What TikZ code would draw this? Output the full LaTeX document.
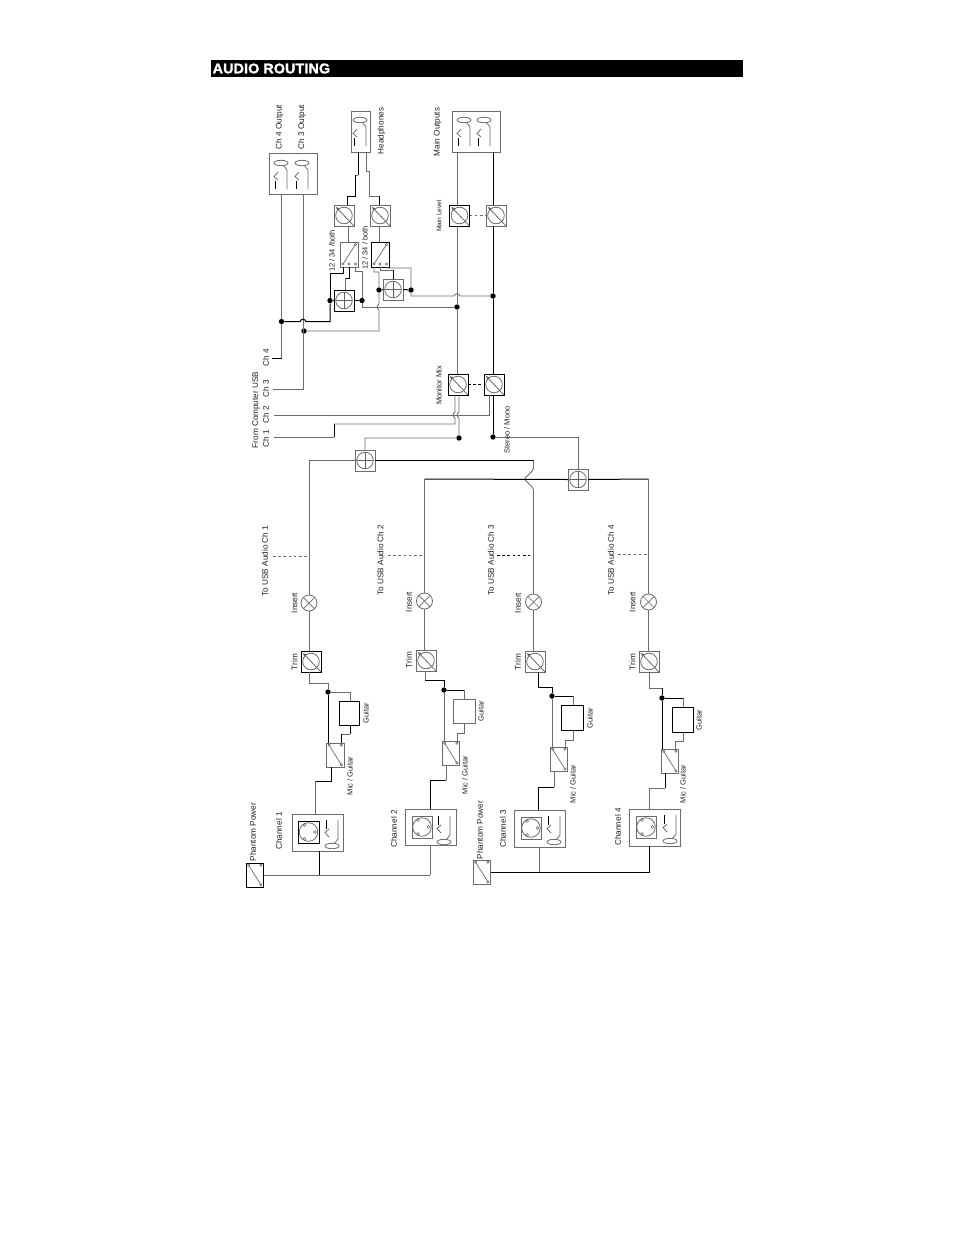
\documentclass[tikz,border=0pt]{standalone}
\usepackage{fontspec}
\setmainfont{Liberation Sans}
\usetikzlibrary{arrows.meta}
\definecolor{gr}{gray}{0.42}
\tikzset{
 gry/.style={draw=gr,line width=0.9pt},
 blk/.style={draw=black,line width=1pt},
 inner/.style={draw=black!62,line width=.75pt},
 unitbox/.style={inner sep=0pt,outer sep=0pt,fill=white},
 dotn/.style={circle,fill=black,draw=none,inner sep=0pt,minimum size=5.4pt},
 lab/.style={rotate=90,inner sep=0pt,text=black!88,font=\fontsize{8.2}{10}\selectfont},
 labs/.style={lab,font=\fontsize{6.6}{8}\selectfont},
 labm/.style={lab,font=\fontsize{7.5}{9}\selectfont},
 dsh/.style={dash pattern=on 2.6pt off 2.6pt},
}
\newcommand\BX[6][gry]{%
 \pgfmathsetmacro\cx{(#3+#5)/2}\pgfmathsetmacro\cy{(#4+#6)/2}%
 \pgfmathsetmacro\ww{#5-#3}\pgfmathsetmacro\hh{#6-#4}%
 \node[unitbox,#1,minimum width=\ww pt,minimum height=\hh pt] (#2) at (\cx,\cy) {};}
% pot: style, name, x1, y1
\newcommand\POT[4][gry]{%
 \pgfmathsetmacro\xb{#3+20}\pgfmathsetmacro\yb{#4+21}%
 \BX[#1]{#2}{#3}{#4}{\xb}{\yb}%
 \draw[inner] (#2.center) circle[radius=8.3];
 \draw[inner,-{Stealth[length=4pt,width=3.6pt]}] (#2.south east) -- ([shift={(2pt,-2pt)}]#2.north west);}
\newcommand\SUM[4][gry]{%
 \pgfmathsetmacro\xb{#3+20}\pgfmathsetmacro\yb{#4+21}%
 \BX[#1]{#2}{#3}{#4}{\xb}{\yb}%
 \draw[inner] (#2.center) circle[radius=8.3];
 \draw[inner,line width=.7pt] ([xshift=-8.3pt]#2.center) -- ([xshift=8.3pt]#2.center) ([yshift=-8.3pt]#2.center) -- ([yshift=8.3pt]#2.center);}
% mic switch: style, name, x1, y1  (18x24)
\newcommand\SWA[4][gry]{%
 \pgfmathsetmacro\xb{#3+17.5}\pgfmathsetmacro\yb{#4+24}%
 \BX[#1]{#2}{#3}{#4}{\xb}{\yb}%
 \draw[gry,line width=.7pt] ([shift={(2.6pt,-2.2pt)}]#2.north west) -- ([shift={(-2.6pt,2.2pt)}]#2.south east);
 \draw[gry,line width=.6pt,fill=white] ([shift={(2.6pt,-2.2pt)}]#2.north west) circle[radius=1.2];
 \draw[gry,line width=.6pt,fill=white] ([shift={(-2.6pt,-2.2pt)}]#2.north east) circle[radius=1.2];
 \draw[gry,line width=.6pt,fill=white] ([shift={(-2.6pt,2.2pt)}]#2.south east) circle[radius=1.2];}
% routing switch
\newcommand\SWB[4][gry]{%
 \pgfmathsetmacro\xb{#3+18}\pgfmathsetmacro\yb{#4+25}%
 \BX[#1]{#2}{#3}{#4}{\xb}{\yb}%
 \draw[gry,line width=.7pt] ([shift={(3pt,3pt)}]#2.south west) -- ([shift={(-2.5pt,-2.5pt)}]#2.north east);
 \draw[gry,line width=.6pt,fill=white] ([shift={(-2.5pt,-2.5pt)}]#2.north east) circle[radius=1.3];
 \draw[gry,line width=.6pt,fill=white] ([shift={(3pt,3pt)}]#2.south west) circle[radius=1.3];
 \draw[gry,line width=.6pt,fill=white] ([shift={(0pt,3pt)}]#2.south) circle[radius=1.3];
 \draw[gry,line width=.6pt,fill=white] ([shift={(-2.5pt,3pt)}]#2.south east) circle[radius=1.3];}
% jack: x, y, flip
\newcommand\JACK[3]{%
 \begin{scope}[shift={(#1,#2)},yscale=#3]
 \draw[gry,line width=.8pt] (0,0) ellipse[x radius=7,y radius=2.7];
 \draw[gry,line width=.8pt] (2.5,2.6) -- (6,7) -- (6,26);
 \draw[gry,line width=.8pt] (-3,9) -- (-7,13.5) -- (-3,17);
 \draw[blk,line width=.8pt] (-6,17.5) -- (-6,26);
 \end{scope}}
% XLR: name of box
\newcommand\XLR[1]{%
 \draw[gry,line width=.8pt] (#1.center) circle[radius=9.3];
 \foreach \a/\b in {-4/-7,6.5/0,-4/7}{\draw[gry,line width=.6pt] ([shift={(\a pt,\b pt)}]#1.center) circle[radius=1.5];}}
\begin{document}
\begin{tikzpicture}[x=1pt,y=-1pt]
\useasboundingbox (0,0) rectangle (954,1235);
% header
\BX[fill=black]{hdr}{211}{60}{743}{76.5}
\node[text=white,anchor=west,inner sep=0pt,xscale=1.02,font=\bfseries\fontsize{14}{16}\selectfont\addfontfeature{FakeBold=1.6,LetterSpace=1}] (hdrtxt) at (212.5,68.5) {AUDIO ROUTING};

%---- boxes top
\BX[gry]{chout}{269}{153}{317}{194}
\JACK{281}{163}{1}\JACK{302}{163}{1}
\BX[gry]{hp}{351}{111}{370}{152}
\JACK{360}{120}{1}
\BX[gry]{mo}{452}{111}{500}{152}
\JACK{464}{120}{1}\JACK{484}{120}{1}
\POT{p1}{334}{205}
\POT{p2}{370}{205}
\POT[blk]{mp1}{449.5}{205}
\POT{mp2}{486}{205}
\POT[blk]{mm1}{448}{374}
\POT[blk]{mm2}{484}{374}
\SWB{sw1}{340}{242}
\SWB[blk]{sw2}{371}{242}
\SUM[blk]{s1}{334}{290}
\SUM{s2}{383}{279}
\SUM{s3}{355}{450}
\SUM{s4}{568}{469}

%---- dots
\node[dotn] (d1) at (281.5,321.5) {};
\node[dotn] (d2) at (304,331) {};
\node[dotn] (d3) at (330,300.5) {};
\node[dotn] (d4) at (362,300.5) {};
\node[dotn] (d5) at (457,307) {};
\node[dotn] (d6) at (379,290) {};
\node[dotn] (d7) at (411,290) {};
\node[dotn] (d8) at (493,296) {};
\node[dotn] (d9) at (459,438) {};
\node[dotn] (d10) at (493,437) {};
\coordinate (c4) at (272,358);
\coordinate (c3) at (273,389);
\coordinate (c2) at (274,415);
\coordinate (c1) at (274,437);

%---- wires top
\draw[gry] (chout.south -| d1) -- (d1) -- (281.5,358);
\draw[blk] (281.5,358) -- (c4);
\draw[gry] (chout.south -| 303,0) -- (303,389) -- (c3);
\draw[blk] (d1) -- (300,321.5) .. controls (301,318.5) and (305,318.5) .. (306,321.5) -- (330,321.5) -- (d3);
\draw[blk] (d3) -- (330,273) -- (343,273) -- (sw1.south -| 343,0);
\draw[blk] (d3) -- (s1.west);
\draw[blk] (sw1.south -| 349,0) -- (349,278) -- (345,278);
\draw[gry] (345,278) -- (s1.north -| 345,0);
\draw[gry] (sw1.south -| 355,0) -- (355,271) -- (362,271) -- (d4) -- (362,307) -- (d5);
\draw[blk] (s1.east) -- (d4);
\draw[gry] (sw2.south -| 374,0) -- (374,272) -- (379,272) -- (d6) -- (379,304) .. controls (376.5,305.5) and (376.5,308.5) .. (379,310) -- (379,331) -- (d2);
\draw[blk] (d6) -- (s2.west);
\draw[gry] (sw2.south -| 380,0) -- (380,270) -- (393,270);
\draw[blk] (393,270) -- (s2.north -| 393,0);
\draw[gry] (sw2.south -| 387,0) -- (387,268) -- (411,268) -- (d7) -- (411,296) -- (454,296) .. controls (455,293) and (459,293) .. (460,296) -- (d8);
\draw[blk] (s2.east) -- (d7);
\draw[blk] (hp.south -| 358,0) -- (358,175);
\draw[gry] (358,175) -- (355,175);
\draw[blk] (355,175) -- (355,196) -- (347,196) -- (p1.north -| 347,0);
\draw[gry] (hp.south -| 366,0) -- (366,171) -- (369,171) -- (369,196) -- (379,196);
\draw[blk] (379,196) -- (p2.north -| 379,0);
\draw[gry] (p1.south -| 348,0) -- (sw1.north -| 348,0);
\draw[gry] (p2.south -| 379,0) -- (sw2.north -| 379,0);
\draw[gry] (mo.south -| 457,0) -- (mp1.north -| 457,0);
\draw[gry] (mp1.south -| 457,0) -- (d5) -- (mm1.north -| 457,0);
\draw[blk] (mo.south -| 493,0) -- (mp2.north -| 493,0);
\draw[blk] (mp2.south -| 493,0) -- (d8) -- (mm2.north -| 493,0);
\draw[gry,dsh] (mp1.east) -- (mp2.west);
\draw[blk,dsh] (mm1.east) -- (mm2.west);
\draw[gry] (mm2.south -| 489,0) -- (489,415) -- (c2);
\draw[gry] (mm1.south -| 455,0) -- (455,412) .. controls (452.5,413.5) and (452.5,416.5) .. (455,418) -- (455,424) -- (334,424);
\draw[blk] (334,424) -- (334,437);
\draw[gry] (334,437) -- (c1);
\draw[gry] (mm1.south -| 459,0) -- (459,412) .. controls (456.5,413.5) and (456.5,416.5) .. (459,418) -- (d9) -- (365,438) -- (s3.north);
\draw[blk] (mm2.south -| 493,0) -- (d10);
\draw[gry] (d10) -- (578,437) -- (s4.north);

%---- channel strips: boxes
\foreach \nm/\x/\y in {ins1/309/603,ins2/424.5/601,ins3/533.5/602,ins4/648.5/602}{
  \node[circle,draw=gr,line width=.8pt,fill=white,inner sep=0pt,minimum size=16pt,outer sep=0pt] (\nm) at (\x,\y) {};
  \draw[gr,line width=.7pt] (\nm.north west) -- (\nm.south east) (\nm.north east) -- (\nm.south west);
}
\POT[blk]{t1}{301}{651}
\POT{t2}{416}{650}
\POT{t3}{525}{651}
\POT{t4}{639}{651}
\BX[blk]{g1}{339}{701}{359}{725}
\BX{g2}{453}{699}{475}{723}
\BX[blk]{g3}{561}{705}{583}{730}
\BX[blk]{g4}{672}{707}{693}{732}
\SWA{sm1}{326.5}{743}
\SWA{sm2}{442}{741}
\SWA{sm3}{550}{747}
\SWA{sm4}{661}{749}
\BX{ch1}{292}{814}{343}{851}
\BX{ch2}{405}{809}{456}{845}
\BX{ch3}{514}{810}{565}{847}
\BX{ch4}{629}{809}{680}{846}
\BX[blk]{x1}{298}{821}{319}{843}\XLR{x1}
\BX{x2}{412}{816}{432}{838}\XLR{x2}
\BX{x3}{521}{817}{541}{839}\XLR{x3}
\BX{x4}{636}{816}{656}{838}\XLR{x4}
\JACK{332}{846}{-1}\JACK{444}{842}{-1}\JACK{554}{842}{-1}\JACK{670}{841}{-1}
\SWA[blk]{ph1}{246}{863}
\SWA{ph2}{473}{860}
\node[dotn] (dc1) at (328,692) {};
\node[dotn] (dc2) at (444,690) {};
\node[dotn] (dc3) at (552,696) {};
\node[dotn] (dc4) at (662,698) {};
\coordinate (u1) at (273,556);
\coordinate (u2) at (388,555);
\coordinate (u3) at (497,555);
\coordinate (u4) at (618,554);

%---- sums to inserts
\draw[gry] (s3.west) -| (ins1.north);
\draw[blk] (s3.east) -- (533.5,460.5);
\draw[gry] (533.5,460.5) -- (533.5,468) .. controls (531,475) and (525,476) .. (525,479) .. controls (525,482) and (531,483) .. (533.5,490) -- (ins3.north);
\draw[blk] (s4.west) -- (424.5,479);
\draw[gry] (424.5,479) -- (ins2.north);
\draw[blk] (s4.east) -- (648.5,479);
\draw[gry] (648.5,479) -- (ins4.north);
\draw[gry,dsh] (u1) -- (u1 -| ins1.north);
\draw[gry,dsh] (u2) -- (u2 -| ins2.north);
\draw[blk,dsh] (u3) -- (530,555);
\draw[gry,dsh,line width=.7pt] (u4) -- (u4 -| ins4.north);

%---- ch1
\draw[gry] (ins1.south) -- (t1.north -| ins1.south);
\draw[gry] (t1.south -| 309,0) -- (309,683) -- (328,683) -- (dc1);
\draw[blk] (dc1) -- (sm1.north -| dc1);
\draw[gry] (dc1) -- (350,692) -- (g1.north -| 350,0);
\draw[blk] (g1.south -| 350,0) -- (350,734);
\draw[gry] (350,734) -- (341,734);
\draw[blk] (341,734) -- (sm1.north -| 341,0);
\draw[blk] (sm1.south -| 331,0) -- (331,781) -- (315,781);
\draw[gry] (315,781) -- (ch1.north -| 315,0);
\draw[blk] (ch1.south -| 319,0) -- (319,875);
%---- ch2
\draw[gry] (ins2.south) -- (t2.north -| ins2.south);
\draw[gry] (t2.south -| 425,0) -- (425,680);
\draw[blk] (425,680) -- (444,680) -- (dc2);
\draw[gry] (dc2) -- (sm2.north -| dc2);
\draw[blk] (dc2) -- (464,690);
\draw[gry] (464,690) -- (g2.north -| 464,0);
\draw[gry] (g2.south -| 464,0) -- (464,733) -- (457,733) -- (sm2.north -| 457,0);
\draw[gry] (sm2.south -| 446,0) -- (446,780);
\draw[blk] (446,780) -- (430,780) -- (ch2.north -| 430,0);
\draw[gry] (ch2.south -| 430,0) -- (430,875);
\draw[gry] (ph1.east) -- (319,875);
\draw[gry] (319,875) -- (430,875);
%---- ch3
\draw[gry] (ins3.south) -- (t3.north -| ins3.south);
\draw[blk] (t3.south -| 538,0) -- (538,687) -- (552,687) -- (dc3);
\draw[gry] (dc3) -- (sm3.north -| dc3);
\draw[blk] (dc3) -- (573,696);
\draw[gry] (573,696) -- (g3.north -| 573,0);
\draw[gry] (g3.south -| 573,0) -- (573,740) -- (565,740) -- (sm3.north -| 565,0);
\draw[gry] (sm3.south -| 554,0) -- (554,787);
\draw[blk] (554,787) -- (538,787) -- (ch3.north -| 538,0);
\draw[gry] (ch3.south -| 539,0) -- (539,872);
\draw[blk] (ph2.east) -- (649,872) -- (ch4.south -| 649,0);
%---- ch4
\draw[gry] (ins4.south) -- (t4.north -| ins4.south);
\draw[gry] (t4.south -| 649,0) -- (649,688) -- (662,688);
\draw[blk] (662,688) -- (dc4);
\draw[blk] (dc4) -- (sm4.north -| dc4);
\draw[blk] (dc4) -- (683,698);
\draw[gry] (683,698) -- (g4.north -| 683,0);
\draw[gry] (g4.south -| 683,0) -- (683,741) -- (675,741) -- (sm4.north -| 675,0);
\draw[blk] (sm4.south -| 665,0) -- (665,788);
\draw[gry] (665,788) -- (649,788) -- (ch4.north -| 649,0);

%---- labels
\node[lab] (l1) at (279.5,127) {Ch 4 Output};
\node[lab] (l2) at (302,127) {Ch 3 Output};
\node[lab] (l3) at (381.5,131) {Headphones};
\node[lab] (l4) at (437.5,132) {Main Outputs};
\node[labs] (l5) at (439,216) {Main Level};
\node[labm] (l6) at (332,251) {12 / 34 /both};
\node[labm] (l7) at (365,248) {12 / 34 / both};
\node[lab] (l8) at (256,410) {From Computer USB};
\node[lab] (l9) at (266,438.5) {Ch 1};
\node[lab] (l10) at (266,415) {Ch 2};
\node[lab] (l11) at (266,389) {Ch 3};
\node[lab] (l12) at (266,358) {Ch 4};
\node[labm] (l13) at (439,385.5) {Monitor Mix};
\node[labm] (l14) at (507,430) {Stereo / Mono};
\node[lab] (l15) at (265,561) {To USB Audio Ch 1};
\node[lab] (l16) at (380.5,560) {To USB Audio Ch 2};
\node[lab] (l17) at (491,560) {To USB Audio Ch 3};
\node[lab] (l18) at (611,560) {To USB Audio Ch 4};
\node[lab] (l19) at (294.5,603) {Insert};
\node[lab] (l20) at (409,602) {Insert};
\node[lab] (l21) at (518,603) {Insert};
\node[lab] (l22) at (632.5,602) {Insert};
\node[lab] (l23) at (294.5,662) {Trim};
\node[lab] (l24) at (409,660) {Trim};
\node[lab] (l25) at (518,662) {Trim};
\node[lab] (l26) at (632.5,662) {Trim};
\node[labm] (l27) at (366,713) {Guitar};
\node[labm] (l28) at (481,711) {Guitar};
\node[labm] (l29) at (590,718) {Guitar};
\node[labm] (l30) at (699,720) {Guitar};
\node[labm] (l31) at (350,776) {Mic / Guitar};
\node[labm] (l32) at (465,775) {Mic / Guitar};
\node[labm] (l33) at (573,784) {Mic / Guitar};
\node[labm] (l34) at (683,784) {Mic / Guitar};
\node[lab] (l35) at (279,831) {Channel 1};
\node[lab] (l36) at (394,829) {Channel 2};
\node[lab] (l37) at (503,829) {Channel 3};
\node[lab] (l38) at (618,827) {Channel 4};
\node[lab] (l39) at (253,832) {Phantom Power};
\node[lab] (l40) at (480,830) {Phantom Power};
\end{tikzpicture}
\end{document}
